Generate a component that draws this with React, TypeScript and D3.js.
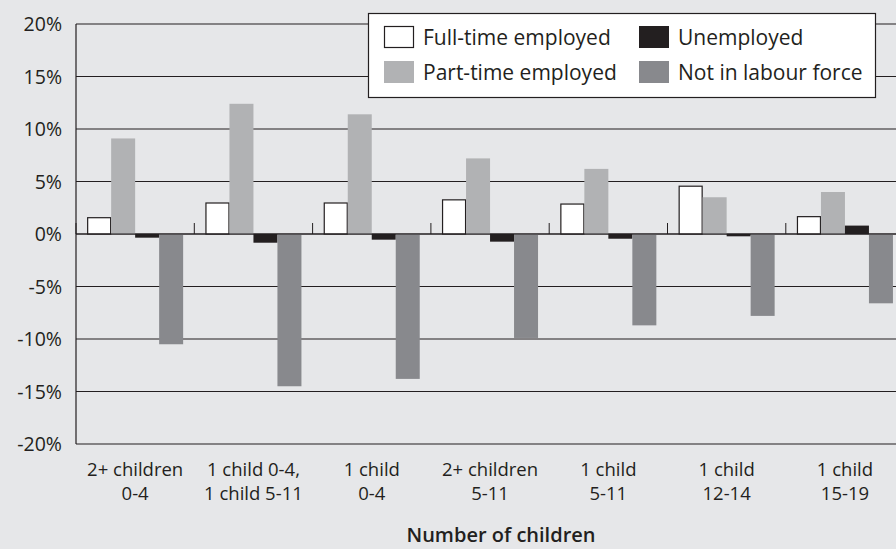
import React from "react";
import * as d3 from "d3";

const categories = [
  ["2+ children", "0-4"],
  ["1 child 0-4,", "1 child 5-11"],
  ["1 child", "0-4"],
  ["2+ children", "5-11"],
  ["1 child", "5-11"],
  ["1 child", "12-14"],
  ["1 child", "15-19"],
];
const seriesNames = ["Full-time employed", "Part-time employed", "Unemployed", "Not in labour force"];
const fullTime = [1.6, 3.0, 3.0, 3.3, 2.9, 4.6, 1.7];
const partTime = [9.1, 12.4, 11.4, 7.2, 6.2, 3.5, 4.0];
const unemployed = [-0.35, -0.83, -0.54, -0.73, -0.45, -0.22, 0.8];
const notInLabour = [-10.5, -14.5, -13.8, -9.9, -8.7, -7.8, -6.6];
const yTicks = [20, 15, 10, 5, 0, -5, -10, -15, -20];
const xTitle = "Number of children";

const seriesValues = [fullTime, partTime, unemployed, notInLabour];
const fills = ["#ffffff", "#b1b2b4", "#231f20", "#88898d"];
const strokes = ["#231f20", "none", "none", "none"];

const W = 896;
const H = 549;
const left = 76;
const bandW = 118.3;
const FONT = "'Open Sans', 'Noto Sans', sans-serif";

export default function App() {
  const y = d3.scaleLinear().domain([-20, 20]).range([444, 24]);
  const x = d3
    .scaleBand<number>()
    .domain(d3.range(categories.length))
    .range([left, left + bandW * categories.length])
    .padding(0);
  const xs = d3
    .scaleBand<number>()
    .domain(d3.range(seriesNames.length))
    .range([0, x.bandwidth()])
    .paddingInner(0)
    .paddingOuter(0.465);

  const legendItems = [
    { i: 0, x: 384, y: 26 },
    { i: 2, x: 639, y: 26 },
    { i: 1, x: 384, y: 61 },
    { i: 3, x: 639, y: 61 },
  ];

  return (
    <div style={{ position: "fixed", left: 0, top: 0, width: W, height: H }}>
      <svg width={W} height={H} style={{ display: "block", fontFamily: FONT }}>
        <rect x={0} y={0} width={W} height={H} fill="#e6e7e9" />
        {/* gridlines */}
        {yTicks.map((t) => (
          <line key={t} x1={left} x2={W} y1={y(t)} y2={y(t)} stroke="#231f20" strokeWidth={1.1} />
        ))}
        {/* y labels */}
        {yTicks.map((t) => (
          <text
            key={"l" + t}
            x={62}
            y={y(t)}
            dy="0.36em"
            textAnchor="end"
            fontSize={19.5}
            fill="#231f20"
          >
            {t + "%"}
          </text>
        ))}
        {/* bars */}
        {categories.map((c, ci) =>
          seriesValues.map((vals, si) => {
            const v = vals[ci];
            const bx = (x(ci) as number) + (xs(si) as number);
            const y0 = y(Math.max(0, v));
            const h = Math.abs(y(v) - y(0));
            return (
              <rect
                key={ci + "-" + si}
                x={bx + (si === 0 ? 0.5 : 0)}
                y={y0 + (si === 0 ? 0.5 : 0)}
                width={xs.bandwidth() - (si === 0 ? 1 : 0)}
                height={Math.max(0, h - (si === 0 ? 0.5 : 0))}
                fill={fills[si]}
                stroke={strokes[si]}
                strokeWidth={1.2}
              />
            );
          })
        )}
        {/* y axis line */}
        <line x1={left} x2={left} y1={y(20)} y2={y(-20)} stroke="#231f20" strokeWidth={1.2} />
        {/* category ticks */}
        {categories.map((c, ci) => (
          <line
            key={"t" + ci}
            x1={x(ci) as number}
            x2={x(ci) as number}
            y1={y(0)}
            y2={y(0) - 11}
            stroke="#231f20"
            strokeWidth={1}
          />
        ))}
        {/* zero line on top */}
        <line x1={left} x2={W} y1={y(0)} y2={y(0)} stroke="#231f20" strokeWidth={1.1} />
        {/* category labels */}
        {categories.map((c, ci) => {
          const cx = (x(ci) as number) + x.bandwidth() / 2;
          return (
            <text key={"c" + ci} textAnchor="middle" fontSize={18.5} fill="#231f20">
              <tspan x={cx} y={476}>{c[0]}</tspan>
              <tspan x={cx} y={500}>{c[1]}</tspan>
            </text>
          );
        })}
        <text x={501} y={542} textAnchor="middle" fontSize={20} fontWeight={600} fill="#231f20">
          {xTitle}
        </text>
        {/* legend */}
        <rect x={368.5} y={13.5} width={507} height={84} fill="#ffffff" stroke="#231f20" strokeWidth={1.2} />
        {legendItems.map((it) => (
          <g key={"lg" + it.i}>
            <rect
              x={it.x + (it.i === 0 ? 0.5 : 0)}
              y={it.y + (it.i === 0 ? 0.5 : 0)}
              width={30 - (it.i === 0 ? 1 : 0)}
              height={22 - (it.i === 0 ? 1 : 0)}
              fill={fills[it.i]}
              stroke={it.i === 0 ? "#231f20" : "none"}
              strokeWidth={1.2}
            />
            <text x={it.x + 39} y={it.y + 19} fontSize={21} fill="#231f20">
              {seriesNames[it.i]}
            </text>
          </g>
        ))}
      </svg>
    </div>
  );
}
